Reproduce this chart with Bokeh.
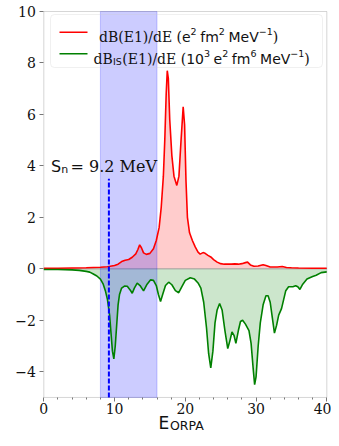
from bokeh.plotting import figure
from bokeh.models import (Label, BoxAnnotation, Range1d, FixedTicker, Arrow, LinearAxis)
from bokeh.embed import file_html
from bokeh.resources import INLINE

# ---- data ----
red_x = [0, 2, 4, 6, 7, 8, 9, 10, 10.5, 11, 11.5, 12, 12.5, 13, 13.3, 13.55, 13.8, 14.1,
         14.5, 15, 15.5, 15.9, 16.3, 16.6, 16.9, 17.1, 17.3, 17.45, 17.6, 17.8, 18.1, 18.4,
         18.8, 19.1, 19.4, 19.7, 19.9, 20.1, 20.3, 20.6, 21.0, 21.4, 21.8, 22.1, 22.5, 22.8,
         23.2, 23.6, 24, 24.5, 25, 25.5, 26, 26.5, 27, 27.5, 28, 28.5, 28.8, 29.2, 29.7,
         30.3, 31, 31.4, 32, 32.5, 33, 33.7, 34.3, 35, 36, 38, 40]
red_y = [0.02, 0.02, 0.03, 0.04, 0.05, 0.06, 0.08, 0.13, 0.18, 0.28, 0.33, 0.36, 0.45, 0.58,
         0.75, 0.93, 0.82, 0.62, 0.56, 0.6, 0.78, 1.1, 1.6, 2.4, 3.6, 5.0, 6.8, 7.7, 7.4, 5.8,
         4.4, 3.6, 3.24, 3.6, 5.0, 6.3, 5.6, 3.4, 2.0, 1.4, 1.1, 0.85, 0.65, 0.57, 0.63, 0.6,
         0.52, 0.46, 0.36, 0.26, 0.2, 0.18, 0.18, 0.18, 0.19, 0.18, 0.2, 0.24, 0.26, 0.15,
         0.1, 0.11, 0.16, 0.13, 0.07, 0.07, 0.07, 0.09, 0.05, 0.04, 0.03, 0.02, 0.02]

green_x = [0, 2, 4, 5, 6, 6.5, 7, 7.5, 8, 8.4, 8.7, 9.0, 9.3, 9.5, 9.7, 9.9, 10.1, 10.3,
           10.5, 10.7, 11.0, 11.4, 11.8, 12.2, 12.5, 12.8, 13.2, 13.6, 14.1, 14.6, 15.1,
           15.5, 15.9, 16.2, 16.5, 16.8, 17.2, 17.65, 18.1, 18.6, 19.07, 19.5, 20, 20.7,
           21.3, 21.8, 22.2, 22.6, 23.0, 23.3, 23.6, 23.9, 24.2, 24.5, 24.85, 25.2, 25.6,
           26.0, 26.3, 26.6, 26.9, 27.15, 27.5, 27.8, 28.1, 28.5, 29.0, 29.3, 29.6, 29.8,
           30.0, 30.3, 30.6, 31.0, 31.4, 31.7, 32.0, 32.3, 32.6, 32.9, 33.2, 33.6, 33.9,
           34.2, 34.6, 35.2, 35.6, 35.9, 36.2, 36.6, 37.2, 38, 38.5, 39.2, 40]
green_y = [-0.03, -0.03, -0.04, -0.06, -0.1, -0.13, -0.2, -0.28, -0.4, -0.6, -0.85, -1.2,
           -1.8, -2.5, -3.2, -3.5, -3.0, -2.2, -1.4, -1.0, -0.75, -0.67, -0.68, -0.82, -0.95,
           -0.75, -0.56, -0.65, -0.86, -0.6, -0.43, -0.45, -0.65, -1.0, -1.27, -1.0, -0.65,
           -0.52, -0.62, -0.85, -0.93, -0.7, -0.45, -0.35, -0.4, -0.55, -0.75, -1.3, -2.3,
           -3.3, -3.85, -3.2, -2.1, -1.6, -1.35, -1.6, -2.4, -3.1, -2.8, -2.45, -2.6, -2.9,
           -2.4, -2.05, -2.0, -2.15, -2.4, -2.9, -3.9, -4.5, -4.2, -3.0, -2.1, -1.4, -1.05,
           -1.05, -1.3, -1.9, -2.5, -2.2, -1.8, -1.55, -1.2, -0.85, -0.7, -0.7, -0.66, -0.7,
           -0.8, -0.6, -0.4, -0.3, -0.25, -0.15, -0.12]

window_lo, window_hi = 8, 16        # shaded energy window (MeV)
s_n = 9.2                            # neutron separation energy
s_n_top = 3.5                        # top of the dashed marker
x_min, x_max = 0, 40
y_min, y_max = -5, 10
x_ticks = [0, 10, 20, 30, 40]
x_minor = [2, 4, 6, 8, 12, 14, 16, 18, 22, 24, 26, 28, 32, 34, 36, 38]
y_ticks = [-4, -2, 0, 2, 4, 6, 8, 10]

# ---- layout: the frame fills the whole canvas; the axes box sits inside it ----
W, H = 331, 430
PX0, SX = 43.3, 7.075      # pixel of x = 0, pixels per x unit
PY0, SY = 268.3, 25.73     # pixel of y = 0, pixels per y unit

p = figure(width=W, height=H,
           x_range=Range1d(-PX0 / SX, (W - PX0) / SX),
           y_range=Range1d(-(H - PY0) / SY, PY0 / SY),
           output_backend="svg", toolbar_location=None,
           x_axis_location=None, y_axis_location=None,
           min_border_left=0, min_border_right=0, min_border_top=0, min_border_bottom=0)
p.background_fill_color = "white"
p.border_fill_color = "white"
p.grid.visible = False
p.outline_line_color = None

# fills
p.varea(x=red_x, y1=0, y2=red_y, fill_color="red", fill_alpha=0.2)
p.varea(x=green_x, y1=0, y2=green_y, fill_color="green", fill_alpha=0.2)
p.segment(x0=[x_min], y0=[0], x1=[x_max], y1=[0], line_color="#8a8a8a", line_alpha=0.5,
          line_width=1.5)

# shaded window
p.quad(left=[window_lo], right=[window_hi], bottom=[y_min], top=[y_max],
       fill_color="blue", fill_alpha=0.2, line_color="blue", line_alpha=0.2, line_width=1)

# curves
p.line(red_x, red_y, line_color="red", line_width=1.6)
p.line(green_x, green_y, line_color="green", line_width=1.6)

# S_n marker
p.segment(x0=[s_n], y0=[y_min], x1=[s_n], y1=[s_n_top], line_color="blue",
          line_dash="5 2", line_width=2)

# axes box
p.add_layout(BoxAnnotation(left=x_min, right=x_max, bottom=y_min, top=y_max,
                           fill_alpha=0, line_color="#777777", line_width=1))

# axes fixed at the box edges
xaxis = LinearAxis(fixed_location=y_min)
yaxis = LinearAxis(fixed_location=x_min)
p.add_layout(xaxis, "below")
p.add_layout(yaxis, "left")
for ax in (xaxis, yaxis):
    ax.axis_line_color = None
    ax.major_tick_line_color = "#777777"
    ax.minor_tick_line_color = "#777777"
    ax.major_tick_out = 4
    ax.major_tick_in = 0
    ax.minor_tick_out = 2
    ax.minor_tick_in = 0
    ax.major_label_text_font = "DejaVu Serif"
    ax.major_label_text_font_size = "14px"
    ax.major_label_text_color = "#111111"
    ax.major_label_standoff = 4
xaxis.major_label_standoff = 2
xaxis.ticker = FixedTicker(ticks=x_ticks, minor_ticks=x_minor)
xaxis.major_label_overrides = {v: str(v) for v in x_ticks}
yaxis.ticker = FixedTicker(ticks=y_ticks, minor_ticks=[])
yaxis.minor_tick_line_color = None
yaxis.major_label_overrides = {v: str(v).replace("-", "\u2212") for v in y_ticks}


# helpers: pixel position in the reference image -> data coordinates (annotations only)
def dx(px):
    return (px - PX0) / SX


def dy(py):
    return (PY0 - py) / SY


SERIF, SANS = "DejaVu Serif", "DejaVu Sans"
W_SANS = {"e": 0.615, "f": 0.352, "m": 0.974, "M": 0.863, "V": 0.684, "0": 0.636,
          "1": 0.636, "2": 0.636, "3": 0.636, "6": 0.636, "\u2212": 0.838, "I": 0.295,
          "S": 0.635, "n": 0.634}
W_SERIF = {"d": 0.640, "B": 0.732, "(": 0.390, ")": 0.390, "E": 0.730, "1": 0.636,
           "/": 0.337, " ": 0.318}


def width(text, font, size):
    table = W_SANS if font == SANS else W_SERIF
    return sum(table.get(c, 0.6) for c in text) * size


def lab(text, px, py, size, font):
    p.add_layout(Label(x=dx(px), y=dy(py), text=text, text_font=font,
                       text_font_size=f"{size}px", text_baseline="alphabetic",
                       text_color="#111111"))


def run(pieces, px, base):
    """pieces: (text, font, size, baseline shift, gap after)"""
    for text, font, size, shift, gap in pieces:
        lab(text, px, base + shift, size, font)
        px += width(text, font, size) + gap


BIG, SUP, SP = 14, 9.5, 3.6

# legend frame and swatches
p.add_layout(BoxAnnotation(left=dx(50), right=dx(322), top=dy(14), bottom=dy(67),
                           fill_alpha=0, line_color="#cccccc", line_width=1,
                           border_radius=4))
p.add_layout(Arrow(start=None, end=None, x_start=dx(59), y_start=dy(31.7), x_end=dx(87),
                   y_end=dy(31.7), line_color="red", line_width=1.6))
p.add_layout(Arrow(start=None, end=None, x_start=dx(59), y_start=dy(53.3), x_end=dx(87),
                   y_end=dy(53.3), line_color="green", line_width=1.6))

# legend entry 1
run([("dB(E1)/dE", SERIF, BIG, 0, 4.4),
     ("(", SERIF, BIG, 0, 0),
     ("e", SANS, BIG, 0, 0),
     ("2", SANS, SUP, -5.5, SP),
     ("fm", SANS, BIG, 0, 0),
     ("2", SANS, SUP, -5.5, SP),
     ("MeV", SANS, BIG, 0, 0),
     ("\u22121", SANS, SUP, -5.5, 0),
     (")", SERIF, BIG, 0, 0)], 98.5, 36.7)

# legend entry 2
run([("dB", SERIF, BIG, 0, 0.3),
     ("IS", SANS, SUP, 3, 0.5),
     ("(E1)/dE", SERIF, BIG, 0, 4.4),
     ("(", SERIF, BIG, 0, 0),
     ("10", SANS, BIG, 0, 0),
     ("3", SANS, SUP, -5.5, SP),
     ("e", SANS, BIG, 0, 0),
     ("2", SANS, SUP, -5.5, SP),
     ("fm", SANS, BIG, 0, 0),
     ("6", SANS, SUP, -5.5, SP),
     ("MeV", SANS, BIG, 0, 0),
     ("\u22121", SANS, SUP, -5.5, 0),
     (")", SERIF, BIG, 0, 0)], 93, 58.3)

# S_n annotation
lab("S", 50.5, 166, 16, SANS)
lab("n", 60.8, 169, 11, SANS)
lab("= 9.2 MeV", 70, 166, 16, SERIF)

# x-axis title E_QRPA (kept inside the 430 px canvas)
lab("E", 158, 422, 17, SANS)
lab("QRPA", 169.5, 425, 12.5, SANS)

open("out.html", "w").write(file_html(p, INLINE))
